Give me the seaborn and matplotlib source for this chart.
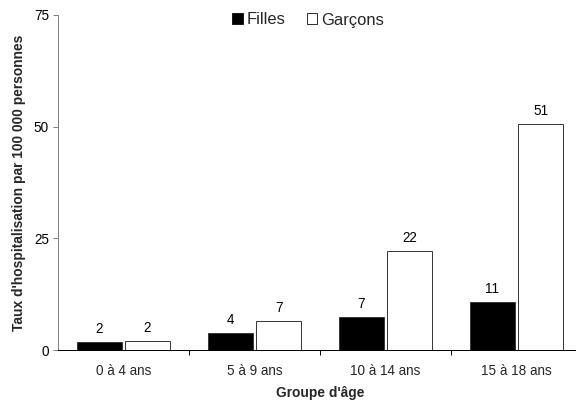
import matplotlib
matplotlib.use("Agg")
import matplotlib.pyplot as plt
from matplotlib.patches import Patch
from matplotlib.ticker import FixedLocator
import pandas as pd
import seaborn as sns

# Hospitalisation rates per 100 000, by age group and sex
age_groups = ["0 à 4 ans", "5 à 9 ans", "10 à 14 ans", "15 à 18 ans"]
filles = [1.9, 3.8, 7.4, 10.7]
garcons = [2.0, 6.6, 22.1, 50.6]
series_names = ["Filles", "Garçons"]
y_ticks = [0, 25, 50, 75]

df = pd.DataFrame({
    "groupe": age_groups * 2,
    "sexe": [series_names[0]] * len(age_groups) + [series_names[1]] * len(age_groups),
    "taux": filles + garcons,
})

sns.set_theme(style="white")
plt.rcParams["font.family"] = ["Liberation Sans", "DejaVu Sans"]

W, H = 576, 403
fig = plt.figure(figsize=(W / 72, H / 72), dpi=72)
ax = fig.add_axes([58 / W, (H - 350) / H, 524 / W, 335 / H])

palette = {"Filles": "black", "Garçons": "white"}
sns.barplot(data=df, x="groupe", y="taux", hue="sexe", order=age_groups,
            hue_order=series_names, palette=palette, width=0.733, gap=0.045,
            edgecolor="#3a3a3a", linewidth=1.0, errorbar=None, legend=False, ax=ax)

for cont in ax.containers:
    ax.bar_label(cont, fmt="%.0f", padding=6, fontsize=13.5, color="black")

ax.set_xlim(-0.5, 3.5)
ax.set_ylim(0, 75)
ax.set_yticks(y_ticks)
ax.set_yticklabels([str(v) for v in y_ticks], fontsize=13.5)
ax.tick_params(axis="y", which="major", left=True, length=5, width=1,
               color="#808080", pad=4, labelcolor="black")

ax.set_xticks(range(len(age_groups)))
ax.set_xticklabels(age_groups, fontsize=13.5)
ax.tick_params(axis="x", which="major", length=0, pad=14)
ax.xaxis.set_minor_locator(FixedLocator([0.5, 1.5, 2.5]))
ax.tick_params(axis="x", which="minor", bottom=True, length=5, width=1, color="black")

for side in ["top", "right"]:
    ax.spines[side].set_visible(False)
ax.spines["left"].set_color("#808080")
ax.spines["left"].set_linewidth(1)
ax.spines["bottom"].set_color("black")
ax.spines["bottom"].set_linewidth(1)

ax.set_xlabel("Groupe d'âge", fontsize=13.7, fontweight="bold", labelpad=8)
ax.set_ylabel("Taux d'hospitalisation par 100 000 personnes", fontsize=13.7,
              fontweight="bold", labelpad=8)

handles = [Patch(facecolor=palette[n], edgecolor="black", linewidth=0.8, label=n)
           for n in series_names]
fig.legend(handles=handles, loc="center", bbox_to_anchor=(308 / W, 1 - 20 / H),
           ncol=2, frameon=False, fontsize=16.5, handlelength=0.65, handleheight=0.65,
           handletextpad=0.2, columnspacing=1.3, borderaxespad=0)

fig.savefig("out.png", dpi=72)
